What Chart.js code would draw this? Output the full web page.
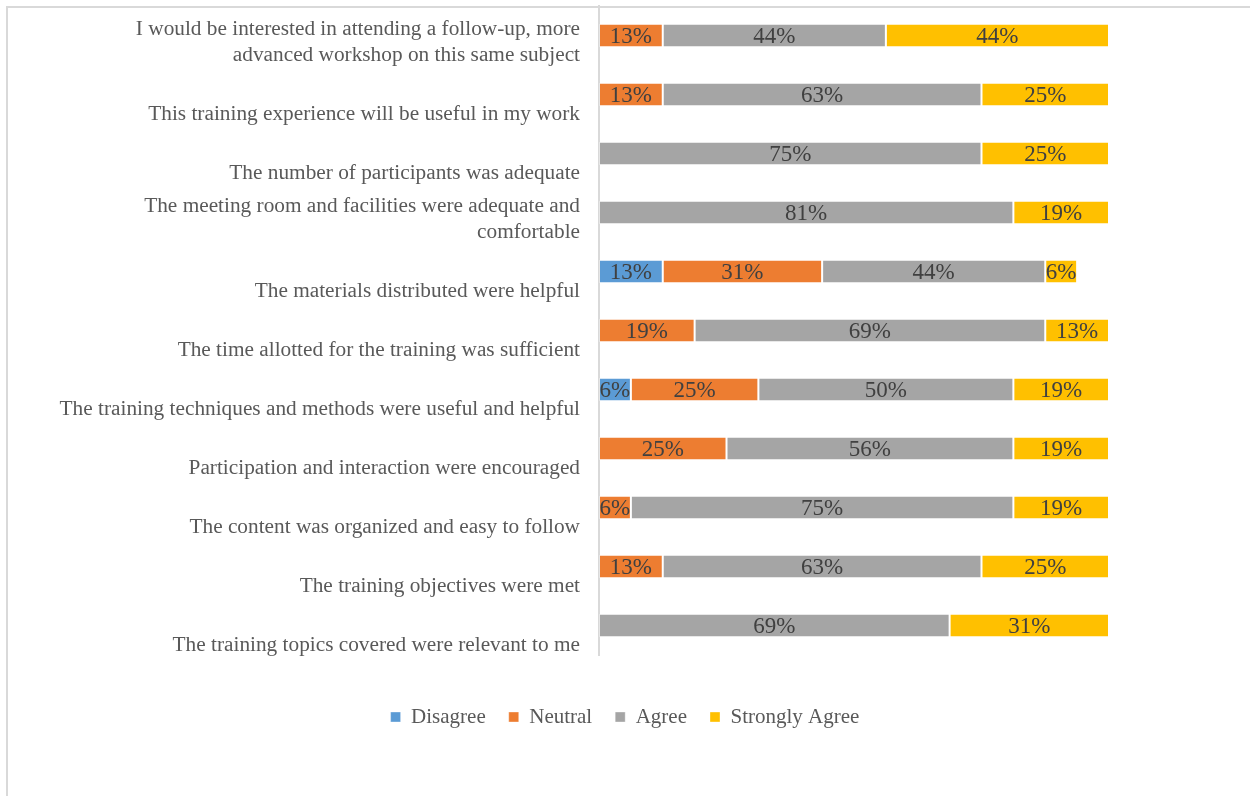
<!DOCTYPE html>
<html>
<head>
<meta charset="utf-8">
<script src="https://cdn.jsdelivr.net/npm/chart.js@4.4.1/dist/chart.umd.min.js"></script>
<style>
  html, body { margin: 0; padding: 0; background: #fff; overflow: hidden; }
  #wrap { position: absolute; left: 0; top: 0; width: 1250px; height: 796px; }
  #frame { position: absolute; left: 6px; top: 6px; width: 1400px; height: 1000px;
           border: 2px solid #d9d9d9; box-sizing: border-box; }
</style>
</head>
<body>
<div id="frame"></div>
<div id="wrap"><canvas id="c"></canvas></div>
<script>
// ---- data (top row first) ----
const categories = [
  ['I would be interested in attending a follow-up, more', 'advanced workshop on this same subject'],
  'This training experience will be useful in my work',
  'The number of participants was adequate',
  ['The meeting room and facilities were adequate and', 'comfortable'],
  'The materials distributed were helpful',
  'The time allotted for the training was sufficient',
  'The training techniques and methods were useful and helpful',
  'Participation and interaction were encouraged',
  'The content was organized and easy to follow',
  'The training objectives were met',
  'The training topics covered were relevant to me'
];
const seriesNames = ['Disagree', 'Neutral', 'Agree', 'Strongly Agree'];
const disagree = [0, 0, 0, 0, 12.5, 0, 6.25, 0, 0, 0, 0];
const neutral  = [12.5, 12.5, 0, 0, 31.25, 18.75, 25, 25, 6.25, 12.5, 0];
const agree    = [43.75, 62.5, 75, 81.25, 43.75, 68.75, 50, 56.25, 75, 62.5, 68.75];
const strongly = [43.75, 25, 25, 18.75, 6.25, 12.5, 18.75, 18.75, 18.75, 25, 31.25];
const seriesColors = ['#5B9BD5', '#ED7D31', '#A5A5A5', '#FFC000'];

Chart.defaults.font.family = '"Liberation Serif", "Times New Roman", serif';

const valueLabels = {
  id: 'valueLabels',
  afterDatasetsDraw(chart) {
    const ctx = chart.ctx;
    ctx.save();
    ctx.font = '23px "Liberation Serif", serif';
    ctx.fillStyle = '#404040';
    ctx.textAlign = 'center';
    ctx.textBaseline = 'middle';
    chart.data.datasets.forEach((ds, di) => {
      const meta = chart.getDatasetMeta(di);
      if (meta.hidden) return;
      meta.data.forEach((bar, i) => {
        const v = ds.data[i];
        if (!v) return;
        ctx.fillText(Math.round(v) + '%', (bar.x + bar.base) / 2, bar.y + 1.5);
      });
    });
    ctx.restore();
  }
};

const seriesData = [disagree, neutral, agree, strongly];

new Chart(document.getElementById('c'), {
  type: 'bar',
  data: {
    labels: categories,
    datasets: seriesNames.map((name, k) => ({
      label: name,
      data: seriesData[k],
      backgroundColor: seriesColors[k],
      borderColor: 'rgba(255,255,255,0.35)',
      borderWidth: 1,
      borderSkipped: false,
      barPercentage: 0.4,
      categoryPercentage: 1.0
    }))
  },
  options: {
    indexAxis: 'y',
    responsive: true,
    maintainAspectRatio: false,
    animation: false,
    layout: { padding: { top: 6, right: 0, bottom: 58.5, left: 0 } },
    scales: {
      x: {
        stacked: true, min: 0, max: 100,
        display: true,
        ticks: { display: false },
        grid: { display: false, drawTicks: false },
        border: { display: false },
        afterFit(s) { s.height = 28.5; s.paddingLeft = 0; s.paddingRight = 0; }
      },
      y: {
        stacked: true,
        grid: { display: false, drawTicks: false },
        border: { display: true, color: '#d9d9d9', width: 2 },
        ticks: {
          padding: 19,
          labelOffset: 7,
          color: '#595959',
          font: { size: 21.3 },
          autoSkip: false,
          callback(value, index) {
            const l = categories[index];
            return Array.isArray(l) ? l : ['', l];
          }
        },
        afterFit(s) { s.width = 599; s.paddingTop = 0; s.paddingBottom = 0; }
      },
      yRight: {
        axis: 'y',
        type: 'linear',
        position: 'right',
        display: true,
        min: 0, max: 1,
        ticks: { display: false },
        grid: { display: false, drawTicks: false },
        border: { display: false },
        afterFit(s) { s.width = 141; s.paddingTop = 0; s.paddingBottom = 0; }
      }
    },
    plugins: {
      legend: {
        position: 'bottom',
        align: 'center',
        labels: {
          boxWidth: 10, boxHeight: 10, padding: 23,
          color: '#595959',
          font: { size: 21 }
        }
      },
      tooltip: { enabled: false }
    }
  },
  plugins: [valueLabels]
});
</script>
</body>
</html>
